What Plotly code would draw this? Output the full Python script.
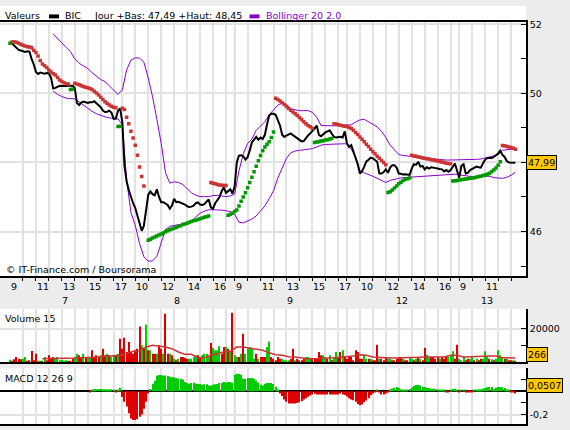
import plotly.graph_objects as go

# BIC intraday, 10-minute bars, 52 bars per session (9:00 -> 17:30)
days = ["7", "8", "9", "12", "13"]
bars_per_day = 52
label_hours = {"7": [9, 11, 13, 15, 17], "8": [10, 12, 14, 16], "9": [9, 11, 13, 15, 17],
               "12": [10, 12, 14, 16], "13": [9, 11]}

close_d7 = [51.50, 51.44, 51.38, 51.30, 51.26, 51.24, 51.21, 51.20, 51.22, 51.21,
            51.00, 50.84, 50.62, 50.56, 50.60, 50.59, 50.57, 50.59, 50.58, 50.45,
            50.14, 50.16, 50.20, 50.22, 50.21, 50.20, 50.21, 50.22, 50.22, 50.22,
            50.15, 49.72, 49.66, 49.73, 49.76, 49.75, 49.72, 49.74, 49.74, 49.77,
            49.71, 49.66, 49.60, 49.50, 49.46, 49.47, 49.50, 49.44, 49.26, 49.27,
            49.50, 49.56]
close_d8 = [49.17, 47.90, 47.45, 47.20, 47.00, 46.82, 46.68, 46.45, 46.22, 46.02,
            46.17, 46.60, 47.06, 47.16, 47.08, 47.05, 47.22, 47.00, 46.85, 46.85,
            46.82, 46.77, 46.66, 46.75, 46.95, 46.85, 46.86, 46.84, 46.80, 46.78,
            46.73, 46.71, 46.72, 46.75, 46.82, 46.84, 46.78, 46.77, 46.79, 46.85,
            46.93, 46.70, 46.66, 46.82, 46.90, 47.00, 47.17, 47.28, 47.12, 47.17,
            47.22, 47.10]
close_d9 = [47.30, 48.00, 48.20, 48.21, 48.18, 48.08, 48.15, 48.35, 48.58, 48.66,
            48.74, 48.66, 48.72, 48.68, 48.80, 49.10, 49.36, 49.41, 49.41, 49.38,
            49.25, 49.07, 48.80, 48.74, 48.78, 48.82, 48.84, 48.79, 48.74, 48.70,
            48.65, 48.61, 48.62, 48.71, 48.78, 48.84, 48.90, 48.98, 49.07, 48.80,
            48.76, 48.83, 48.87, 48.90, 48.93, 48.83, 48.74, 48.72, 48.74, 48.74,
            48.72, 48.90]
close_d12 = [48.55, 48.45, 48.50, 48.33, 48.18, 47.95, 47.68, 47.75, 47.88, 48.03,
             48.08, 48.14, 48.12, 48.07, 48.02, 47.68, 47.68, 47.72, 47.80, 47.70,
             47.85, 47.92, 47.92, 47.85, 47.68, 47.67, 47.65, 47.66, 47.64, 47.64,
             47.82, 47.95, 47.93, 48.02, 47.88, 47.90, 47.80, 47.86, 47.82, 47.86,
             47.85, 47.83, 47.82, 47.81, 47.80, 47.74, 47.78, 47.73, 47.78, 47.87,
             47.97, 47.75]
close_d13 = [47.56, 47.90, 47.95, 47.68, 47.70, 47.78, 47.82, 47.84, 47.88, 47.86,
             47.85, 47.98, 48.08, 48.13, 48.13, 48.13, 48.16, 48.20, 48.26, 48.34,
             48.22, 48.16, 48.04, 48.00, 48.00, 47.99, 47.99]
close = close_d7 + close_d8 + close_d9 + close_d12 + close_d13
day_low, day_high = 47.49, 48.45

# parabolic SAR, one value per bar (None = no dot)
sar = ([51.45]
       + [51.49, 51.49, 51.48, 51.45, 51.42, 51.39, 51.37, 51.35, 51.34, 51.32, 51.25, 51.18, 51.08, 50.95,
          50.85, 50.80, 50.75, 50.68, 50.62, 50.57, 50.53, 50.46, 50.39, 50.34, 50.31, 50.28, 50.27]
       + [50.11, 50.12]
       + [50.29, 50.27, 50.25, 50.22, 50.20, 50.18, 50.16, 50.14, 50.11, 50.06, 50.01, 49.95, 49.89, 49.82,
          49.76, 49.71, 49.66, 49.63, 49.60, 49.58]
       + [49.04, 49.05]
       + [49.57, 49.53, 49.31, 49.12, 48.90, 48.71, 48.50, 48.21, 47.87, 47.59, 47.32]
       + [None]
       + [45.75, 45.78, 45.81, 45.84, 45.87, 45.90, 45.93, 45.96, 45.99, 46.02, 46.05, 46.07, 46.10, 46.12,
          46.15, 46.17, 46.20, 46.22, 46.24, 46.27, 46.29, 46.31, 46.33, 46.35, 46.37, 46.39, 46.41, 46.43, 46.45]
       + [47.42, 47.40, 47.38, 47.36, 47.35, 47.34, 47.33, 47.33]
       + [46.47, 46.50, 46.53, 46.58, 46.62, 46.74, 46.88, 47.00, 47.12, 47.27, 47.42, 47.57, 47.73, 47.89,
          48.05, 48.20, 48.34, 48.45, 48.53, 48.60, 48.72, 48.88]
       + [49.86, 49.82, 49.78, 49.73, 49.68, 49.62, 49.56, 49.51, 49.46, 49.41, 49.36, 49.30, 49.24, 49.18,
          49.12, 49.07, 49.03, 48.99]
       + [48.58, 48.59, 48.60, 48.62, 48.63, 48.65, 48.66, 48.68, 48.69]
       + [49.12, 49.11, 49.09, 49.08, 49.06, 49.05, 49.04, 49.01, 48.98, 48.93, 48.87, 48.81, 48.74, 48.67,
          48.60, 48.53, 48.46, 48.38, 48.31, 48.25, 48.18, 48.12, 48.06, 48.00, 47.93]
       + [47.13, 47.15, 47.20, 47.26, 47.32, 47.38, 47.43, 47.48, 47.51, 47.53, 47.55]
       + [48.21, 48.19, 48.18, 48.16, 48.15, 48.13, 48.12, 48.11, 48.10, 48.08, 48.07, 48.06, 48.04, 48.03,
          48.01, 48.00, 47.98, 47.97, 47.96]
       + [47.46, 47.47, 47.48, 47.49, 47.50, 47.51, 47.52, 47.53, 47.54, 47.55, 47.56, 47.58, 47.59, 47.60,
          47.62, 47.64, 47.66, 47.69, 47.73, 47.78, 47.84, 47.92, 48.02]
       + [48.49, 48.48, 48.46, 48.45, 48.43, 48.41, 48.38])

# Bollinger 20 2.0, read every second bar from bar 20
boll_x = list(range(20, 235, 2))
boll_up = [51.72, 51.58, 51.47, 51.33, 51.21, 51.00, 50.87, 50.79, 50.72, 50.60,
           50.50, 50.40, 50.34, 50.22, 50.08, 49.97, 50.10, 50.68, 50.96, 51.03,
           51.02, 50.90, 50.45, 49.90, 49.25, 48.55, 47.70, 47.40, 47.44, 47.42,
           47.36, 47.25, 47.12, 47.05, 47.01, 47.01, 47.01, 47.04, 47.05, 47.03,
           47.01, 47.03, 47.08, 47.75, 48.25, 48.55, 48.68, 48.93, 49.07, 49.18,
           49.38, 49.53, 49.66, 49.72, 49.68, 49.55, 49.52, 49.50, 49.50, 49.50,
           49.45, 49.31, 49.07, 49.06, 49.05, 49.06, 49.07, 49.08, 49.09, 49.09,
           49.17, 49.23, 49.25, 49.17, 49.10, 49.03, 48.90, 48.72, 48.50, 48.35,
           48.23, 48.20, 48.19, 48.18, 48.17, 48.15, 48.14, 48.13, 48.11, 48.09,
           48.07, 48.07, 48.07, 48.07, 48.07, 48.07, 48.07, 48.08, 48.09, 48.10,
           48.13, 48.17, 48.19, 48.22, 48.35, 48.37, 48.38, 48.40]
boll_dn = [50.06, 49.97, 49.91, 49.86, 49.85, 49.84, 49.75, 49.66, 49.56, 49.48,
           49.41, 49.36, 49.32, 49.29, 49.27, 49.26, 49.10, 47.50, 46.55, 46.18,
           45.65, 45.27, 45.14, 45.15, 45.28, 45.68, 46.06, 46.15, 46.17, 46.19,
           46.22, 46.26, 46.30, 46.42, 46.53, 46.59, 46.63, 46.63, 46.63, 46.62,
           46.60, 46.58, 46.50, 46.27, 46.25, 46.30, 46.36, 46.45, 46.58, 46.74,
           46.95, 47.18, 47.55, 47.85, 48.12, 48.28, 48.33, 48.35, 48.37, 48.38,
           48.40, 48.45, 48.50, 48.52, 48.53, 48.54, 48.54, 48.54, 48.54, 48.38,
           48.15, 47.76, 47.70, 47.66, 47.60, 47.54, 47.48, 47.42, 47.48, 47.52,
           47.54, 47.56, 47.57, 47.58, 47.59, 47.59, 47.60, 47.61, 47.62, 47.63,
           47.64, 47.65, 47.66, 47.66, 47.64, 47.62, 47.60, 47.59, 47.59, 47.60,
           47.61, 47.60, 47.56, 47.54, 47.54, 47.57, 47.63, 47.72]

# volume per bar, negative = down bar (red)
vol_d7 = [1400, -600, -1600, -3000, -2000, -1600, 2000, 3000, -600, -1000,
          -6600, -1000, -5000, 400, 300, -500, 3000, -1000, -4000, -2000,
          -3000, 2000, 3000, 1000, 1400, 600, 1000, -800, -400, -2000,
          3000, 5000, -4000, -3000, 5000, -2400, 3000, 3000, -7000, -3000,
          -4000, -3000, 4000, -8000, -4000, 5000, -4000, 3000, 4000, -4000,
          5000, -14000]
vol_d8 = [-8000, -14600, -6000, -12000, -6000, -5000, -7000, -8000, -21400, 10000,
          -8000, 22600, -7000, 7000, -5000, -5000, 5000, -10000, -8000, 5000,
          -29000, -5000, 5000, -4000, 2000, -1000, 2000, -3000, -3000, -2600,
          -2000, 2000, 2000, 3000, 4000, -4000, -3000, 4000, 5000, 5000,
          3000, -11400, 8400, 7000, 7000, 9400, -5000, -9000, 9000, -8000,
          6000, -29600]
vol_d9 = [4000, 3000, -3000, 5000, -17000, 5000, 8000, 9000, 8000, 2000,
          -5000, 2000, -3000, -3000, -3000, 9000, 12400, -3000, -2000, -1000,
          -3000, -2000, 2000, 1000, 1000, 1000, -2000, -8000, 1000, -2000,
          -1000, -1000, -2000, 3000, 3000, 2000, -2000, -2000, -2000, -6000,
          -4000, 4000, 3000, -2000, 4000, -1000, 3000, 6000, -3000, -6000,
          7000, -3000]
vol_d12 = [-2000, -3000, -3000, -1000, -7000, -6000, -2000, -2000, 4400, 2000,
           -2000, 2000, -1000, -1000, -10400, 2000, -2000, -1000, -3000, 2000,
           2000, -1000, -1000, -2000, -3000, -3000, 2000, -1000, -1000, 3000,
           2000, -1000, 2000, -3000, 2000, -1000, -8600, 4400, 3000, -3000,
           -3000, -2000, -3000, 2000, -3000, -2000, -3000, 3000, 4000, 6400,
           -2000, -10400]
vol_d13 = [2000, 1000, 3000, -1000, -2000, 2000, 3000, -1000, 2000, -1000,
           -2000, 2000, 6400, 3000, -2000, 1600, -1000, 2000, 7000, 4000,
           3000, -2000, 2000, -1000, -1000, 1000, -266]
volume = vol_d7 + vol_d8 + vol_d9 + vol_d12 + vol_d13

# 15-period volume average, read every third bar from bar 15
vol_ma_x = list(range(15, 235, 3))
vol_ma = [2000, 2000, 2000, 2000, 2000, 2400, 2600, 2600, 2800, 3200,
          3600, 3600, 4000, 5000, 6400, 6800, 9000, 10000, 9600, 9000,
          8000, 6000, 4600, 4600, 2600, 2600, 4000, 5000, 6000, 6400,
          9000, 9000, 8400, 7600, 7000, 5500, 4400, 4000, 3200, 3000,
          2400, 2000, 2000, 2400, 2400, 2600, 3000, 3000, 3600, 4400,
          4000, 3000, 3000, 2600, 2400, 2400, 2400, 2400, 2800, 3000,
          3000, 3000, 3000, 4000, 4000, 3000, 3000, 3000, 3400, 3600,
          3600, 2600, 2400, 2400]

# MACD 12 26 9 histogram
macd = ([None] * 37
        + [-0.010, 0.010, 0.017, 0.020, 0.020, 0.020, 0.017, 0.017, 0.014, 0.017,
           0.017, 0.014, -0.008, 0.008, 0.030, -0.050, -0.090, -0.130, -0.190, -0.234,
           -0.248, -0.248, -0.240, -0.220, -0.200, -0.150, -0.090, -0.020, 0.020, 0.065,
           0.090, 0.135, 0.140, 0.140, 0.137, 0.137, 0.131, 0.125, 0.122, 0.122,
           0.115, 0.110, 0.108, 0.102, 0.080, 0.071, 0.065, 0.071, 0.074, 0.065,
           0.063, 0.063, 0.057, 0.060, 0.060, 0.051, 0.051, 0.057, 0.060, 0.063,
           0.071, 0.074, 0.080, 0.074, 0.080, 0.080, 0.074, 0.142, 0.151, 0.151,
           0.142, 0.110, 0.108, 0.114, 0.114, 0.114, 0.108, 0.094, 0.074, 0.057,
           0.051, 0.065, 0.071, 0.071, 0.071, 0.063, 0.040, 0.010, -0.020, -0.040,
           -0.070, -0.090, -0.105]
        + [-0.105, -0.105, -0.105, -0.100, -0.095, -0.085, -0.070, -0.060, -0.048, -0.036,
           -0.028, -0.022, -0.028, -0.028, -0.028, -0.028, -0.028, -0.028, -0.028, -0.028,
           -0.028, -0.028, -0.028, -0.020, -0.028, -0.032, -0.045, -0.060, -0.070, -0.077,
           -0.091, -0.110, -0.120, -0.114, -0.095, -0.080, -0.060, -0.035, -0.020, -0.011,
           0.010, -0.011, -0.028, -0.028, -0.020, -0.006, 0.009, 0.025, 0.030, 0.037,
           0.030, 0.017, 0.009, 0.009, 0.009, 0.020, 0.033, 0.048, 0.055, 0.057,
           0.051, 0.037, 0.037, 0.031, 0.028, 0.023, 0.023, 0.023, 0.017, 0.009,
           0.009, 0.009, -0.006, -0.011, 0.009, 0.020, 0.023, 0.010, -0.011, 0.009,
           0.009, -0.006, -0.011, -0.011, -0.011, 0.009, 0.009, 0.017, 0.017, 0.023,
           0.028, 0.034, 0.037, 0.037, 0.017, 0.030, 0.037, 0.037, 0.035, 0.028,
           0.017, 0.009, -0.011, -0.011, -0.020])
macd_last = 0.0507

W, H = 570, 430
RED, GREEN, SAR_RED, SAR_GREEN, PURPLE = "#dd0000", "#00cc00", "#cc3333", "#009900", "#8800cc"
GRID = "#e2e2e2"
FONT = "DejaVu Sans"


def pxx(x):
    return x / W


def pxy(y):
    return 1 - y / H


n = len(close)
bars = list(range(n))

# hour ticks (9:00 of the first session sits on the left edge, no grid there)
hour_ticks = []
for d in range(len(days)):
    for h in range(9, 18):
        b = d * bars_per_day + (h - 9) * 6
        if 0 < b < n:
            hour_ticks.append(b)

sar_red = [s if s is not None and s > c else None for s, c in zip(sar, close)]
sar_green = [s if s is not None and s <= c else None for s, c in zip(sar, close)]

fig = go.Figure()

fig.add_trace(go.Scatter(x=boll_x, y=boll_up, mode="lines", line=dict(color=PURPLE, width=1)))
fig.add_trace(go.Scatter(x=boll_x, y=boll_dn, mode="lines", line=dict(color=PURPLE, width=1)))
fig.add_trace(go.Scatter(x=bars, y=close, mode="lines", line=dict(color="black", width=2)))
fig.add_trace(go.Scatter(x=bars, y=sar_red, mode="markers",
                         marker=dict(symbol="square", size=3.5, color=SAR_RED, line_width=0)))
fig.add_trace(go.Scatter(x=bars, y=sar_green, mode="markers",
                         marker=dict(symbol="square", size=3.5, color=SAR_GREEN, line_width=0)))

# volume panel
fig.add_trace(go.Bar(x=bars, y=[abs(v) for v in volume], width=0.5,
                     marker=dict(color=[GREEN if v > 0 else RED for v in volume], line_width=0),
                     xaxis="x2", yaxis="y2"))
fig.add_trace(go.Scatter(x=vol_ma_x, y=vol_ma, mode="lines", line=dict(color=SAR_RED, width=1.5),
                         xaxis="x2", yaxis="y2"))

# MACD panel
fig.add_trace(go.Bar(x=bars, y=macd, width=0.5,
                     marker=dict(color=[GREEN if (m or 0) > 0 else RED for m in macd], line_width=0),
                     xaxis="x3", yaxis="y3"))

xrange = [-4.63, 238.9]
xdom = [0, pxx(526)]
common_x = dict(range=xrange, domain=xdom, tickvals=hour_ticks, showticklabels=False,
                showgrid=True, gridcolor=GRID, gridwidth=2, zeroline=False,
                showline=True, linecolor="black", linewidth=1.5)
common_y = dict(side="right", ticks="inside", ticklen=5, tickcolor="black",
                showline=True, linecolor="black", linewidth=1.5, showgrid=True,
                gridcolor=GRID, gridwidth=2, zeroline=False,
                tickfont=dict(family=FONT, size=9.5, color="black"))

fig.update_layout(
    width=W, height=H, margin=dict(l=0, r=0, t=0, b=0),
    paper_bgcolor="#ececec", plot_bgcolor="white", showlegend=False,
    font=dict(family=FONT, size=9.5, color="black"),
    xaxis=dict(common_x, anchor="y", ticks="outside", ticklen=3, tickcolor="black", mirror=True),
    xaxis2=dict(common_x, anchor="y2", matches="x", ticks=""),
    xaxis3=dict(common_x, anchor="y3", matches="x", ticks=""),
    # the 48 and 0 labels sit behind the last-value boxes, so they are left blank
    yaxis=dict(common_y, anchor="x", domain=[pxy(275), pxy(19)], range=[44.71, 52.07],
               tickvals=[46, 48, 50, 52], ticktext=["46", "", "50", "52"],
               minor=dict(tickvals=[45, 47, 49, 51], ticks="inside", ticklen=5,
                          tickcolor="black", showgrid=False)),
    yaxis2=dict(common_y, anchor="x2", domain=[pxy(362), pxy(308)], range=[-300, 32000],
                tickvals=[20000], ticktext=["20000"],
                minor=dict(tickvals=[10000], ticks="inside", ticklen=5,
                           tickcolor="black", showgrid=False)),
    yaxis3=dict(common_y, anchor="x3", domain=[pxy(424), pxy(368)], range=[-0.282, 0.197],
                tickvals=[-0.2, 0], ticktext=["-0,2", ""],
                zeroline=True, zerolinecolor="black", zerolinewidth=1.5,
                minor=dict(tickvals=[-0.1, 0.1], ticks="inside", ticklen=5,
                           tickcolor="black", showgrid=False)),
)

shapes = []
# white legend strip above the price panel
shapes.append(dict(type="rect", xref="paper", yref="paper", x0=0, x1=pxx(526),
                   y0=pxy(19), y1=pxy(3), fillcolor="white", line_width=0, layer="below"))
shapes.append(dict(type="rect", xref="paper", yref="paper", x0=pxx(49), x1=pxx(59),
                   y0=pxy(15.5), y1=pxy(11.5), fillcolor="black", line_width=0))
shapes.append(dict(type="rect", xref="paper", yref="paper", x0=pxx(249.5), x1=pxx(259.5),
                   y0=pxy(15.5), y1=pxy(11.5), fillcolor=PURPLE, line_width=0))
# session separators
for xr, yr in [("x", "y domain"), ("x2", "y2 domain"), ("x3", "y3 domain")]:
    for d in range(1, len(days)):
        b = d * bars_per_day
        shapes.append(dict(type="line", xref=xr, yref=yr, x0=b, x1=b, y0=0, y1=1,
                           line=dict(color="#a0a0a0", width=1.5), layer="below"))
fig.update_layout(shapes=shapes)

ann = []
# legend line
ann.append(dict(text="Valeurs", x=pxx(3), y=pxy(12.5)))
ann.append(dict(text="BIC", x=pxx(63), y=pxy(12.5)))
ann.append(dict(text="Jour +Bas: %s +Haut: %s" % (f"{day_low:.2f}".replace(".", ","),
                                                    f"{day_high:.2f}".replace(".", ",")),
                x=pxx(91.5), y=pxy(12.5)))
ann.append(dict(text="Bollinger 20 2.0", x=pxx(264), y=pxy(12.5), font=dict(color=PURPLE)))
ann.append(dict(text="\u00a9 IT-Finance.com / Boursorama", x=pxx(4), y=pxy(268)))
ann.append(dict(text="Volume 15", x=pxx(3), y=pxy(318)))
ann.append(dict(text="MACD 12 26 9", x=pxx(3), y=pxy(378.5)))
for a in ann:
    a.update(xref="paper", yref="paper", xanchor="left", yanchor="middle", showarrow=False)

# hour and day labels under the price panel
for d, day in enumerate(days):
    for h in label_hours[day]:
        b = d * bars_per_day + (h - 9) * 6
        ann.append(dict(text=str(h), x=b, xref="x", y=pxy(285), yref="paper",
                        xanchor="left", yanchor="middle", showarrow=False, xshift=-1))
    first = d * bars_per_day
    last = min(first + bars_per_day, n) - 1
    ann.append(dict(text=day, x=(first + last) / 2, xref="x", y=pxy(300), yref="paper",
                    xanchor="center", yanchor="middle", showarrow=False))

# last-value boxes on the right axes
box = dict(xanchor="left", showarrow=False, bgcolor="#ffc800", bordercolor="black",
           borderwidth=1, borderpad=1, font=dict(family=FONT, size=9.5, color="black"))
ann.append(dict(box, text=f"{close[-1]:.2f}".replace(".", ","), x=1, xref="x domain",
                y=close[-1], yref="y", yanchor="middle"))
ann.append(dict(box, text=str(abs(volume[-1])), x=1, xref="x2 domain",
                y=0, yref="y2", yanchor="bottom"))
ann.append(dict(box, text=f"{macd_last:.4f}".replace(".", ","), x=1, xref="x3 domain",
                y=macd_last, yref="y3", yanchor="middle"))
fig.update_layout(annotations=ann)

# the page body has a default 8px margin; drop it so the figure sits at the window origin
fig.write_html("out.html", config={"displayModeBar": False},
               post_script="document.body.style.margin = '0';")
